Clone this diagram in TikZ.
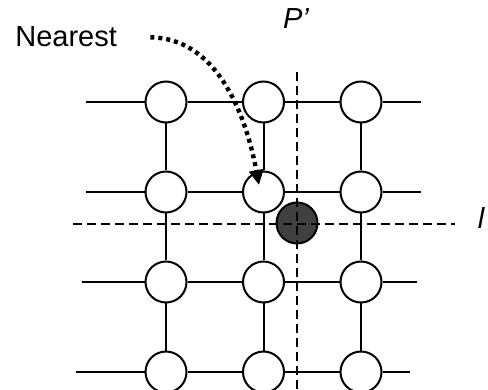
\documentclass[tikz,border=0pt]{standalone}
\usepackage{fontspec}
\setmainfont{Liberation Sans}
\usetikzlibrary{arrows.meta}

\begin{document}
\begin{tikzpicture}[x=0.5pt,y=-0.5pt,node distance=48.75pt,
  site/.style={circle,draw,line width=1pt,fill=white,minimum size=20.5pt,inner sep=0pt},
  hit/.style={site,fill=black!75},
  link/.style={line width=1pt},
  cut/.style={line width=1pt,dash pattern=on 4.5pt off 2.5pt},
  hint/.style={line width=2.2pt,dash pattern=on 2pt off 2pt,
    -{Triangle[length=7.5pt,width=7pt]}},
  tag/.style={inner sep=0pt,font=\fontsize{14.5pt}{17pt}\selectfont}]
\useasboundingbox (0,0) rectangle (488,390);

% define the sites of the grid
  \node[site] (a1) at (166,102) {};
  \node[site] (a2) [right of=a1] {};
  \node[site] (a3) [right of=a2] {};
  \node[site] (b1) [below of=a1,node distance=45pt] {};
  \node[site] (b2) [right of=b1] {};
  \node[site] (b3) [right of=b2] {};
  \node[site] (c1) [below of=b1,node distance=45pt] {};
  \node[site] (c2) [right of=c1] {};
  \node[site] (c3) [right of=c2] {};
  \node[site] (d1) [below of=c1,node distance=45pt] {};
  \node[site] (d2) [right of=d1] {};
  \node[site] (d3) [right of=d2] {};

% the projected point
  \node[hit] (p) at (297,223) {};

% define the labels
  \node[tag,anchor=west] (nearest) at (15,37) {Nearest};
  \node[tag,font=\fontsize{14.5pt}{17pt}\selectfont\itshape] (pname) at (296,19) {P’};
  \node[tag,font=\fontsize{14.5pt}{17pt}\selectfont\itshape] (lname) at (481,218) {l};

% free ends of the lines
  \coordinate (a0) at (86,102);  \coordinate (a4) at (421,102);
  \coordinate (b0) at (86,192);  \coordinate (b4) at (421,192);
  \coordinate (c0) at (82,282);  \coordinate (c4) at (417,282);
  \coordinate (d0) at (76,372);  \coordinate (d4) at (410,372);
  \coordinate (vtop) at (297,72);  \coordinate (vbot) at (297,390);
  \coordinate (hleft) at (73,224); \coordinate (hright) at (455,224);
  \coordinate (tip) at (259,185);

% define the links
  \path[link] (a0) edge (a1) (a1) edge (a2) (a2) edge (a3) (a3) edge (a4)
              (b0) edge (b1) (b1) edge (b2) (b2) edge (b3) (b3) edge (b4)
              (c0) edge (c1) (c1) edge (c2) (c2) edge (c3) (c3) edge (c4)
              (d0) edge (d1) (d1) edge (d2) (d2) edge (d3) (d3) edge (d4)
              (a1) edge (b1) (b1) edge (c1) (c1) edge (d1)
              (a2) edge (b2) (b2) edge (c2) (c2) edge (d2)
              (a3) edge (b3) (b3) edge (c3) (c3) edge (d3);

% the two cut lines and the pointer
  \draw[cut] (vtop) -- (vbot);
  \draw[cut] (hleft) -- (hright);
  \draw[hint,shorten <=16.5pt] (nearest.east) .. controls (215,38) and (245,110) .. (tip);

\end{tikzpicture}
\end{document}
